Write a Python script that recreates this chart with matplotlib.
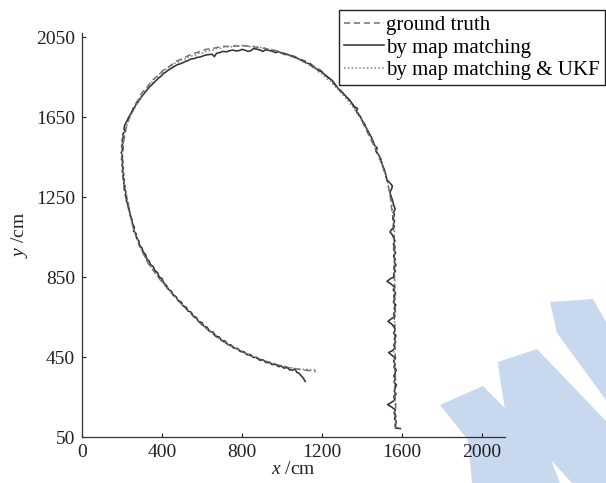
import matplotlib
matplotlib.use("Agg")
import matplotlib.pyplot as plt
from matplotlib.patches import Polygon

plt.rcParams['font.family'] = ['Liberation Serif', 'DejaVu Serif']
plt.rcParams['mathtext.fontset'] = 'custom'
plt.rcParams['mathtext.it'] = 'Liberation Serif:italic'
plt.rcParams['mathtext.rm'] = 'Liberation Serif'

# ---------------- data (cm) ----------------
ground_truth = [
    (1568, 90), (1565, 150), (1569, 210), (1564, 270), (1568, 330), (1563, 390), (1567, 450),
    (1562, 510), (1566, 570), (1561, 630), (1565, 690), (1560, 750), (1564, 810), (1559, 870),
    (1563, 930), (1558, 990), (1561, 1050), (1556, 1100), (1554, 1150), (1547, 1200), (1542, 1250),
    (1532, 1300), (1522, 1345), (1508, 1390), (1495, 1425), (1478, 1465), (1462, 1500), (1446, 1535),
    (1428, 1572), (1410, 1610), (1392, 1650), (1370, 1685), (1346, 1722), (1320, 1752), (1292, 1785),
    (1266, 1810), (1240, 1840), (1216, 1860), (1192, 1885), (1162, 1902), (1130, 1925), (1094, 1938),
    (1058, 1955), (1020, 1966), (980, 1980), (936, 1988), (892, 1997), (846, 2002), (800, 2007),
    (750, 2003), (700, 2003), (660, 1994), (620, 1988), (580, 1974), (542, 1962), (506, 1944),
    (470, 1928), (440, 1905), (410, 1887), (380, 1858), (350, 1832), (326, 1800), (300, 1772),
    (280, 1735), (258, 1700), (243, 1662), (228, 1625), (218, 1582), (210, 1540), (206, 1495),
    (202, 1450), (204, 1405), (203, 1360), (208, 1320), (212, 1280), (221, 1240), (230, 1200),
    (244, 1145), (258, 1090), (274, 1045), (290, 1000), (310, 960), (330, 920), (361, 877),
    (392, 835), (426, 795), (460, 755), (493, 720), (526, 685), (563, 648), (600, 610),
    (645, 573), (691, 537), (730, 513), (770, 490), (813, 470), (857, 450), (898, 435),
    (940, 420), (983, 409), (1026, 398), (1063, 392), (1100, 386), (1135, 382), (1170, 378),
]

map_matching = [
    (1592, 92), (1570, 95), (1566, 110), (1572, 125), (1563, 140), (1569, 155), (1560, 170),
    (1567, 185), (1548, 200), (1528, 212), (1545, 222), (1565, 235), (1558, 250), (1570, 265),
    (1561, 280), (1566, 295), (1572, 310), (1560, 325), (1567, 340), (1559, 355), (1566, 370),
    (1571, 385), (1560, 400), (1565, 415), (1558, 430), (1567, 445), (1548, 460), (1533, 472),
    (1552, 482), (1566, 495), (1559, 510), (1568, 525), (1562, 540), (1570, 555), (1558, 570),
    (1566, 585), (1560, 600), (1548, 615), (1530, 628), (1545, 640), (1564, 652), (1558, 665),
    (1567, 680), (1561, 695), (1569, 710), (1557, 725), (1565, 740), (1560, 755), (1568, 770),
    (1556, 785), (1563, 800), (1545, 815), (1525, 828), (1540, 840), (1562, 852), (1558, 865),
    (1567, 880), (1560, 895), (1570, 910), (1561, 925), (1566, 940), (1558, 955), (1568, 970),
    (1560, 985), (1566, 1000), (1557, 1015), (1565, 1030), (1559, 1045), (1552, 1060), (1540, 1075),
    (1548, 1088), (1562, 1100), (1557, 1115), (1563, 1130), (1555, 1145), (1562, 1160), (1558, 1175),
    (1566, 1190), (1560, 1205), (1556, 1220), (1552, 1235), (1547, 1250), (1543, 1262), (1540, 1275),
    (1548, 1290), (1552, 1305), (1540, 1320), (1525, 1335), (1519, 1360), (1512, 1385), (1505, 1402),
    (1498, 1425), (1492, 1445), (1482, 1462), (1470, 1478), (1476, 1495), (1463, 1508), (1455, 1530),
    (1447, 1548), (1438, 1565), (1430, 1580), (1420, 1598), (1413, 1615), (1402, 1630), (1393, 1650),
    (1383, 1662), (1372, 1678), (1378, 1692), (1362, 1702), (1350, 1718), (1338, 1735), (1325, 1748),
    (1312, 1762), (1298, 1775), (1285, 1786), (1276, 1800), (1264, 1815), (1252, 1832), (1238, 1842),
    (1225, 1852), (1210, 1865), (1195, 1878), (1182, 1882), (1170, 1893), (1152, 1902), (1140, 1915),
    (1122, 1920), (1108, 1928), (1092, 1936), (1076, 1944), (1060, 1950), (1045, 1955), (1030, 1962),
    (1015, 1963), (1000, 1968), (985, 1976), (968, 1972), (952, 1979), (935, 1983), (918, 1986),
    (905, 1978), (890, 1985), (872, 1990), (858, 1992), (845, 1982), (830, 1978), (815, 1984),
    (800, 1988), (785, 1982), (770, 1980), (755, 1985), (740, 1982), (722, 1976), (705, 1978),
    (688, 1972), (672, 1968), (662, 1952), (650, 1964), (636, 1962), (620, 1960), (605, 1955),
    (590, 1950), (575, 1948), (560, 1942), (545, 1940), (530, 1932), (518, 1928), (505, 1922),
    (492, 1916), (478, 1912), (465, 1905), (452, 1897), (440, 1890), (428, 1882), (416, 1872),
    (405, 1866), (396, 1855), (385, 1846), (372, 1834), (360, 1822), (348, 1810), (337, 1800),
    (326, 1786), (316, 1774), (306, 1762), (297, 1750), (288, 1737), (280, 1725), (270, 1712),
    (262, 1698), (255, 1685), (248, 1672), (240, 1660), (232, 1646), (226, 1632), (219, 1620),
    (212, 1604), (210, 1590), (216, 1578), (204, 1566), (207, 1550), (200, 1536), (205, 1520),
    (198, 1504), (203, 1488), (196, 1472), (202, 1456), (198, 1440), (205, 1424), (199, 1408),
    (206, 1394), (201, 1380), (209, 1364), (205, 1350), (212, 1334), (208, 1320), (215, 1305),
    (212, 1290), (220, 1275), (217, 1260), (224, 1245), (222, 1230), (229, 1215), (232, 1205),
    (237, 1182), (241, 1160), (249, 1140), (252, 1118), (262, 1098), (258, 1080), (270, 1068),
    (272, 1048), (284, 1030), (288, 1008), (300, 995), (306, 975), (318, 962), (324, 940),
    (336, 930), (342, 912), (356, 902), (364, 882), (378, 872), (386, 850), (400, 842),
    (410, 818), (422, 808), (432, 788), (446, 780), (456, 760), (470, 752), (480, 732),
    (496, 726), (504, 706), (520, 700), (530, 680), (546, 674), (556, 654), (572, 648),
    (582, 628), (600, 622), (608, 604), (626, 598), (638, 578), (656, 574), (668, 554),
    (686, 550), (698, 532), (716, 530), (728, 512), (746, 510), (760, 494), (778, 492),
    (792, 478), (810, 476), (824, 462), (842, 462), (856, 448), (874, 448), (888, 434),
    (906, 436), (920, 422), (938, 424), (950, 412), (968, 414), (982, 402), (998, 404),
    (1010, 394), (1025, 398), (1038, 386), (1052, 384), (1064, 390), (1074, 374), (1086, 368),
    (1096, 356), (1106, 345), (1116, 328),
]

map_matching_ukf = [
    (1566, 95), (1570, 130), (1562, 165), (1568, 200), (1560, 240), (1566, 280), (1561, 320),
    (1568, 360), (1560, 400), (1566, 440), (1559, 480), (1567, 520), (1561, 560), (1568, 600),
    (1560, 640), (1566, 680), (1559, 720), (1567, 760), (1561, 800), (1566, 840), (1558, 880),
    (1565, 920), (1560, 960), (1566, 1000), (1558, 1040), (1563, 1080), (1556, 1120), (1560, 1150),
    (1551, 1180), (1550, 1215), (1542, 1250), (1538, 1280), (1530, 1310), (1526, 1340), (1515, 1370),
    (1508, 1395), (1496, 1425), (1490, 1448), (1476, 1475), (1470, 1495), (1456, 1520), (1448, 1542),
    (1433, 1565), (1425, 1585), (1410, 1610), (1400, 1630), (1385, 1655), (1373, 1672), (1356, 1698),
    (1343, 1714), (1326, 1738), (1312, 1752), (1294, 1772), (1280, 1788), (1258, 1808), (1244, 1828),
    (1222, 1842), (1206, 1862), (1184, 1874), (1168, 1892), (1144, 1902), (1126, 1918), (1102, 1926),
    (1084, 1940), (1060, 1945), (1040, 1960), (1018, 1962), (996, 1975), (972, 1976), (950, 1988),
    (928, 1988), (905, 1998), (882, 1996), (860, 2005), (836, 2002), (812, 2010), (790, 2004),
    (766, 2008), (742, 2000), (718, 2003), (695, 1994), (672, 1994), (650, 1982), (628, 1982),
    (606, 1970), (585, 1970), (562, 1956), (542, 1955), (520, 1940), (500, 1938), (480, 1922),
    (462, 1918), (443, 1900), (426, 1896), (408, 1876), (392, 1870), (376, 1850), (362, 1842),
    (347, 1820), (335, 1808), (321, 1788), (310, 1775), (298, 1755), (288, 1740), (276, 1720),
    (268, 1704), (258, 1685), (250, 1668), (240, 1648), (234, 1632), (225, 1610), (220, 1592),
    (212, 1570), (209, 1552), (203, 1530), (202, 1510), (198, 1488), (200, 1468), (197, 1445),
    (201, 1425), (199, 1402), (204, 1382), (203, 1360), (209, 1340), (209, 1318), (216, 1298),
    (217, 1276), (224, 1258), (226, 1236), (234, 1218), (230, 1200), (236, 1172), (244, 1145),
    (250, 1118), (258, 1090), (265, 1066), (274, 1045), (281, 1020), (290, 1000), (299, 978),
    (310, 960), (319, 940), (330, 920), (344, 900), (361, 877), (375, 858), (392, 835),
    (408, 818), (426, 795), (441, 778), (460, 755), (475, 740), (493, 720), (508, 706),
    (526, 685), (544, 670), (563, 648), (580, 634), (600, 610), (622, 595), (645, 573),
    (667, 560), (691, 537), (710, 528), (730, 513), (750, 505), (770, 490), (792, 483),
    (813, 470), (835, 463), (857, 450), (877, 446), (898, 435), (918, 431), (940, 420),
    (962, 418), (983, 409), (1005, 407), (1026, 398), (1045, 397), (1063, 392), (1082, 392),
    (1100, 388), (1118, 389), (1135, 386), (1152, 388), (1170, 386),
]

labels = ["ground truth", "by map matching", "by map matching & UKF"]
x_ticks = [0, 400, 800, 1200, 1600, 2000]
y_ticks = [50, 450, 850, 1250, 1650, 2050]

# ---------------- figure ----------------
W, H = 606, 483
fig = plt.figure(figsize=(W / 100, H / 100), dpi=100)

# light-blue watermark (decorative background, pixel coords -> figure fraction)
wm_color = '#c8d8ee'
wm_shapes = [
    [(550, 302), (593, 299), (606, 322), (606, 400), (557, 333)],
    [(498, 362), (537, 349), (606, 421), (606, 483), (572, 483), (505, 410), (500, 378)],
    [(440, 405), (483, 386), (548, 452), (560, 483), (472, 483), (468, 440)],
]
for pts in wm_shapes:
    fig.patches.append(Polygon([(px / W, 1 - py / H) for px, py in pts],
                               closed=True, transform=fig.transFigure,
                               facecolor=wm_color, edgecolor='none', zorder=-10))

ax = fig.add_axes([82 / W, 1 - 437 / H, 423 / W, 404 / H])
ax.set_zorder(2)
ax.set_facecolor('none')

gx, gy = zip(*ground_truth)
mx, my = zip(*map_matching)
ux, uy = zip(*map_matching_ukf)

l1, = ax.plot(gx, gy, linestyle=(0, (4, 2.5)), color='#707070', lw=1.1)
l2, = ax.plot(mx, my, linestyle='-', color='#333333', lw=1.15)
l3, = ax.plot(ux, uy, linestyle=(0, (1, 1.5)), color='#808080', lw=1.1)

ax.set_xlim(0, 2115)
ax.set_ylim(50, 2070)
ax.set_xticks(x_ticks)
ax.set_yticks(y_ticks)
ax.tick_params(direction='in', length=3, width=0.8, labelsize=14, pad=5, colors='#222222')
for s in ['top', 'right']:
    ax.spines[s].set_visible(False)
for s in ['left', 'bottom']:
    ax.spines[s].set_linewidth(0.9)
    ax.spines[s].set_color('#333333')

ax.set_xlabel(r'$x$ /cm', fontsize=14, labelpad=0, color='#222222')
ax.set_ylabel(r'$y$ /cm', fontsize=14, labelpad=4, color='#222222')

leg = fig.legend([l1, l2, l3], labels, loc='upper right',
                 bbox_to_anchor=(605 / W, 1 - 10 / H), fontsize=15,
                 frameon=True, fancybox=False, framealpha=1, edgecolor='#222222',
                 handlelength=1.9, handletextpad=0.1, labelspacing=0.15,
                 borderpad=0.25, borderaxespad=0)
leg.get_frame().set_linewidth(1.0)
leg.set_zorder(5)

fig.savefig('out.png', dpi=100)
